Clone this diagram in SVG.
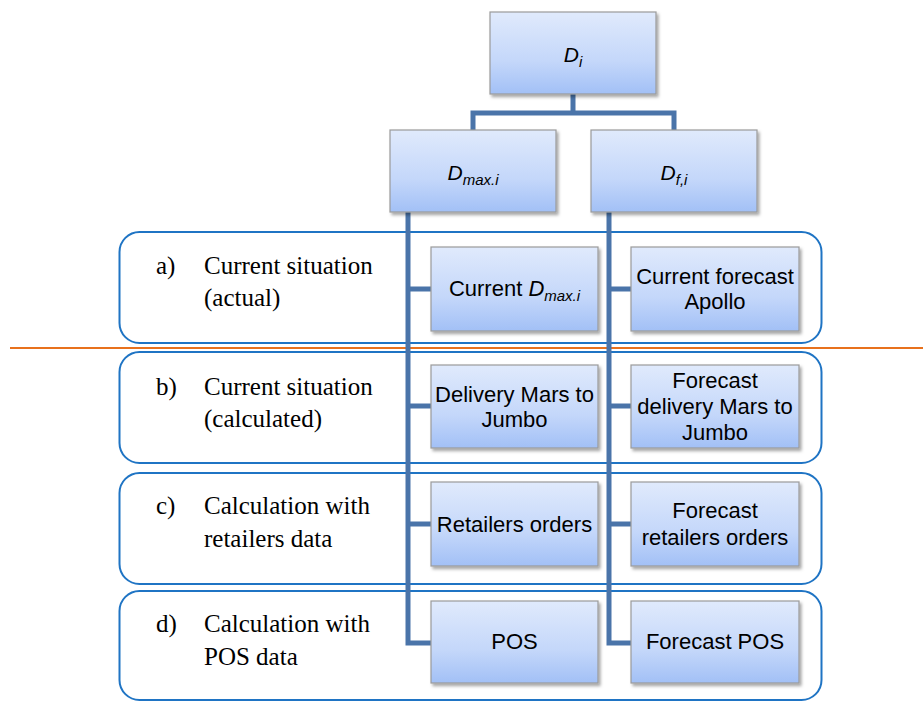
<svg xmlns="http://www.w3.org/2000/svg" width="923" height="702" viewBox="0 0 923 702">
<defs>
<linearGradient id="g" x1="0" y1="0" x2="0" y2="1">
<stop offset="0" stop-color="#e0eafc"/>
<stop offset="0.6" stop-color="#c4d7fa"/>
<stop offset="1" stop-color="#a2c0f6"/>
</linearGradient>
<filter id="sh" x="-10%" y="-10%" width="125%" height="130%">
<feDropShadow dx="2" dy="2.5" stdDeviation="1.5" flood-color="#000" flood-opacity="0.35"/>
</filter>
</defs>
<style>
.grp{fill:#fff;stroke:#1f74c4;stroke-width:2}
.box{fill:url(#g);stroke:#9a9a9a;stroke-width:1.2;filter:url(#sh)}
.con{fill:none;stroke:#4a74a9;stroke-width:5}
.t{font-family:"Liberation Sans",Arial,sans-serif;font-size:22px;fill:#000;text-anchor:middle}
.m{font-family:"Liberation Sans",Arial,sans-serif;font-size:21px;font-style:italic;fill:#000;text-anchor:middle}
.lab{font-family:"Liberation Serif","Times New Roman",serif;font-size:25px;fill:#000}
.sub{font-size:15px}
</style>
<rect width="923" height="702" fill="#fff"/>
<g id="bands">
<g id="band-a"><rect class="grp" x="119.5" y="232" width="702" height="111" rx="20"/>
<text class="lab" x="156" y="274">a)</text><text class="lab" x="204" y="274">Current situation</text><text class="lab" x="204" y="306">(actual)</text></g>
<g id="band-b"><rect class="grp" x="119.5" y="352" width="702" height="111" rx="20"/>
<text class="lab" x="156" y="395">b)</text><text class="lab" x="204" y="395">Current situation</text><text class="lab" x="204" y="427">(calculated)</text></g>
<g id="band-c"><rect class="grp" x="119.5" y="473" width="702" height="111" rx="20"/>
<text class="lab" x="156" y="514">c)</text><text class="lab" x="204" y="514">Calculation with</text><text class="lab" x="204" y="547">retailers data</text></g>
<g id="band-d"><rect class="grp" x="119.5" y="591" width="702" height="109" rx="20"/>
<text class="lab" x="156" y="632">d)</text><text class="lab" x="204" y="632">Calculation with</text><text class="lab" x="204" y="665">POS data</text></g>
</g>
<line x1="10" y1="348" x2="923" y2="348" stroke="#e8711c" stroke-width="2.2"/>
<g id="connectors">
<path class="con" d="M573 94 V113 M473 130 V113 H674 V130"/>
<path class="con" d="M408 212 V643 H431 M408 289 H431 M408 406 H431 M408 524 H431"/>
<path class="con" d="M609 212 V643 H631 M609 289 H631 M609 406 H631 M609 524 H631"/>
</g>
<g id="n-di"><rect class="box" x="490" y="12" width="166" height="82"/>
<text class="m" x="573" y="62">D<tspan class="sub" dy="5">i</tspan></text></g>
<g id="n-dmax"><rect class="box" x="390" y="130" width="166" height="82"/>
<text class="m" x="473" y="180">D<tspan class="sub" dy="5">max.i</tspan></text></g>
<g id="n-df"><rect class="box" x="591" y="130" width="166" height="82"/>
<text class="m" x="674" y="180">D<tspan class="sub" dy="5">f,i</tspan></text></g>
<g id="n-a1"><rect class="box" x="431" y="247" width="167" height="84"/>
<text class="t" x="514.5" y="296">Current <tspan font-style="italic">D</tspan><tspan class="sub" font-style="italic" dy="5">max.i</tspan></text></g>
<g id="n-a2"><rect class="box" x="631" y="247" width="168" height="84"/>
<text class="t" x="715" y="284">Current forecast</text><text class="t" x="715" y="309">Apollo</text></g>
<g id="n-b1"><rect class="box" x="431" y="365" width="167" height="83"/>
<text class="t" x="514.5" y="402">Delivery Mars to</text><text class="t" x="514.5" y="427">Jumbo</text></g>
<g id="n-b2"><rect class="box" x="631" y="365" width="168" height="83"/>
<text class="t" x="715" y="388">Forecast</text><text class="t" x="715" y="414">delivery Mars to</text><text class="t" x="715" y="440">Jumbo</text></g>
<g id="n-c1"><rect class="box" x="431" y="482" width="167" height="84"/>
<text class="t" x="514.5" y="532">Retailers orders</text></g>
<g id="n-c2"><rect class="box" x="631" y="482" width="168" height="84"/>
<text class="t" x="715" y="518">Forecast</text><text class="t" x="715" y="545">retailers orders</text></g>
<g id="n-d1"><rect class="box" x="431" y="601" width="167" height="82"/>
<text class="t" x="514.5" y="649">POS</text></g>
<g id="n-d2"><rect class="box" x="631" y="601" width="168" height="82"/>
<text class="t" x="715" y="649">Forecast POS</text></g>
</svg>
